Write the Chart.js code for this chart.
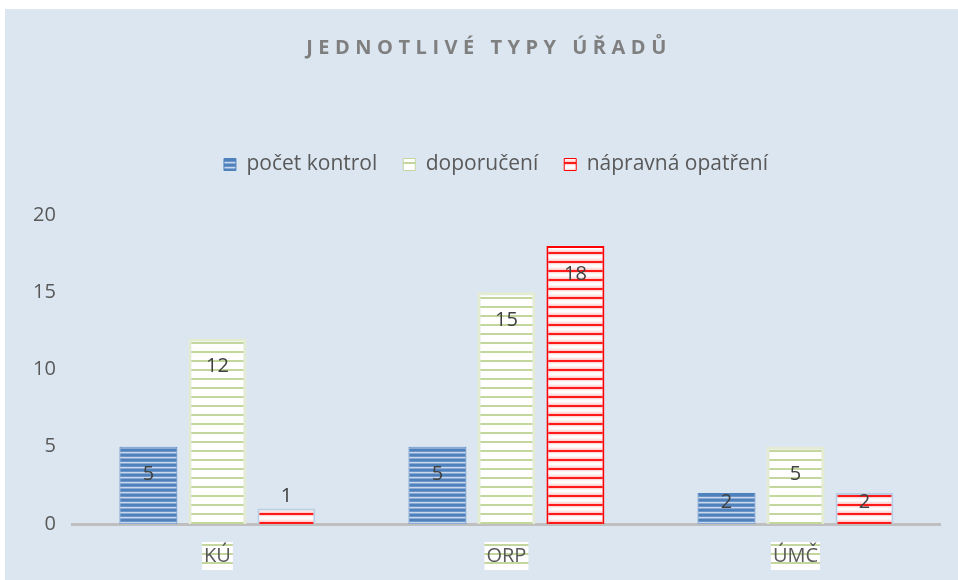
<!DOCTYPE html>
<html>
<head>
<meta charset="utf-8">
<script src="https://cdn.jsdelivr.net/npm/chart.js@4.4.0/dist/chart.umd.min.js"></script>
<style>
  html, body { margin: 0; padding: 0; background: #ffffff; }
  #wrap { position: absolute; left: 5px; top: 9px; width: 953px; height: 571px; background: #dce6f1; }
</style>
</head>
<body>
<div id="wrap"><canvas id="chart" width="953" height="571"></canvas></div>
<script>
var chartTitle = 'JEDNOTLIVÉ TYPY ÚŘADŮ';
var categories = ['KÚ', 'ORP', 'ÚMČ'];
var seriesNames = ['počet kontrol', 'doporučení', 'nápravná opatření'];
var kontroly = [5, 5, 2];
var doporuceni = [12, 15, 5];
var napravna = [1, 18, 2];
var yTicks = [0, 5, 10, 15, 20];

var FONT = '"Open Sans", "Liberation Sans", sans-serif';

// striped fills like the original office chart
function rowsPattern(rows) {
    var c = document.createElement('canvas');
    c.width = 8;
    c.height = rows.length;
    var x = c.getContext('2d');
    for (var i = 0; i < rows.length; i++) {
        x.fillStyle = rows[i];
        x.fillRect(0, i, 8, 1);
    }
    return x.createPattern(c, 'repeat');
}

var bluePat = rowsPattern(['#4f81bd', '#4f81bd', '#6b95c8', '#c9d8ec', '#8aaad4']);
var greenPat = rowsPattern(['#c3d69b', '#c3d69b', '#ffffff', '#ffffff', '#ffffff', '#ffffff', '#ffffff', '#ffffff', '#ffffff']);
var redPat = rowsPattern(['#ff1a1a', '#ff1a1a', '#ffd9d9', '#fff2f2', '#ffffff', '#ffffff', '#fff2f2', '#ffe3e3', '#ffd0d0']);

var valueLabels = {
    id: 'valueLabels',
    afterDatasetsDraw: function (chart) {
        var ctx = chart.ctx;
        ctx.save();
        ctx.font = '20px ' + FONT;
        ctx.fillStyle = '#404040';
        ctx.textAlign = 'center';
        ctx.textBaseline = 'middle';
        chart.data.datasets.forEach(function (ds, di) {
            var meta = chart.getDatasetMeta(di);
            meta.data.forEach(function (bar, i) {
                var h = bar.base - bar.y;
                var y;
                if (h > 45) y = bar.y + 28;
                else if (h > 20) y = (bar.y + bar.base) / 2 - 6;
                else y = bar.y - 12;
                ctx.fillText(ds.data[i], bar.x, y);
            });
        });
        ctx.restore();
    }
};

var spacedTitle = {
    id: 'spacedTitle',
    afterDraw: function (chart) {
        var ctx = chart.ctx;
        ctx.save();
        ctx.font = 'bold 20px ' + FONT;
        ctx.fillStyle = '#7f7f7f';
        ctx.letterSpacing = '5.5px';
        ctx.textAlign = 'center';
        ctx.textBaseline = 'middle';
        ctx.fillText(chartTitle, 484, 39);
        ctx.restore();
    }
};

// extra room between legend and plot, legend nudged right
var legendGap = {
    id: 'legendGap',
    beforeLayout: function (chart) {
        var lg = chart.legend;
        if (lg && !lg._gapPatched) {
            var fit = lg.fit;
            lg.fit = function () {
                fit.call(this);
                this.height += 30;
            };
            lg._gapPatched = true;
        }
    },
    afterLayout: function (chart) {
        chart.legend.left += 14;
        chart.legend.right += 14;
    }
};

new Chart(document.getElementById('chart'), {
    type: 'bar',
    data: {
        labels: categories,
        datasets: [
            { label: seriesNames[0], data: kontroly, backgroundColor: bluePat, borderColor: '#4f81bd', borderWidth: 1 },
            { label: seriesNames[1], data: doporuceni, backgroundColor: greenPat, borderColor: '#e3ecd0', borderWidth: 3 },
            { label: seriesNames[2], data: napravna, backgroundColor: redPat, borderColor: ['#b9cde5', '#ff0000', '#b9cde5'], borderWidth: 2 }
        ]
    },
    options: {
        responsive: false,
        animation: false,
        categoryPercentage: 0.716,
        barPercentage: 0.84,
        layout: { padding: { top: 119, left: 19, right: 18, bottom: 0 } },
        plugins: {
            title: { display: false },
            tooltip: { enabled: false },
            legend: {
                position: 'top',
                labels: {
                    font: { family: FONT, size: 21 },
                    color: '#595959',
                    boxWidth: 12,
                    boxHeight: 12,
                    padding: 26,
                    generateLabels: function (chart) {
                        var items = Chart.defaults.plugins.legend.labels.generateLabels(chart);
                        items[0].strokeStyle = '#4f81bd';
                        items[1].strokeStyle = '#c3d69b';
                        items[2].strokeStyle = '#ff0000';
                        items.forEach(function (it) { it.lineWidth = 1; });
                        return items;
                    }
                }
            }
        },
        scales: {
            x: {
                grid: { display: false },
                border: { display: true, color: '#bfbfbf', width: 3 },
                ticks: {
                    font: { family: FONT, size: 20 },
                    color: '#595959',
                    padding: 12,
                    showLabelBackdrop: true,
                    backdropColor: greenPat,
                    backdropPadding: 2
                }
            },
            y: {
                min: 0,
                max: 20,
                grid: { display: false },
                border: { display: false },
                afterBuildTicks: function (axis) {
                    axis.ticks = yTicks.map(function (v) { return { value: v }; });
                },
                ticks: {
                    font: { family: FONT, size: 20 },
                    color: '#595959',
                    padding: 9
                }
            }
        }
    },
    plugins: [valueLabels, spacedTitle, legendGap]
});
</script>
</body>
</html>
